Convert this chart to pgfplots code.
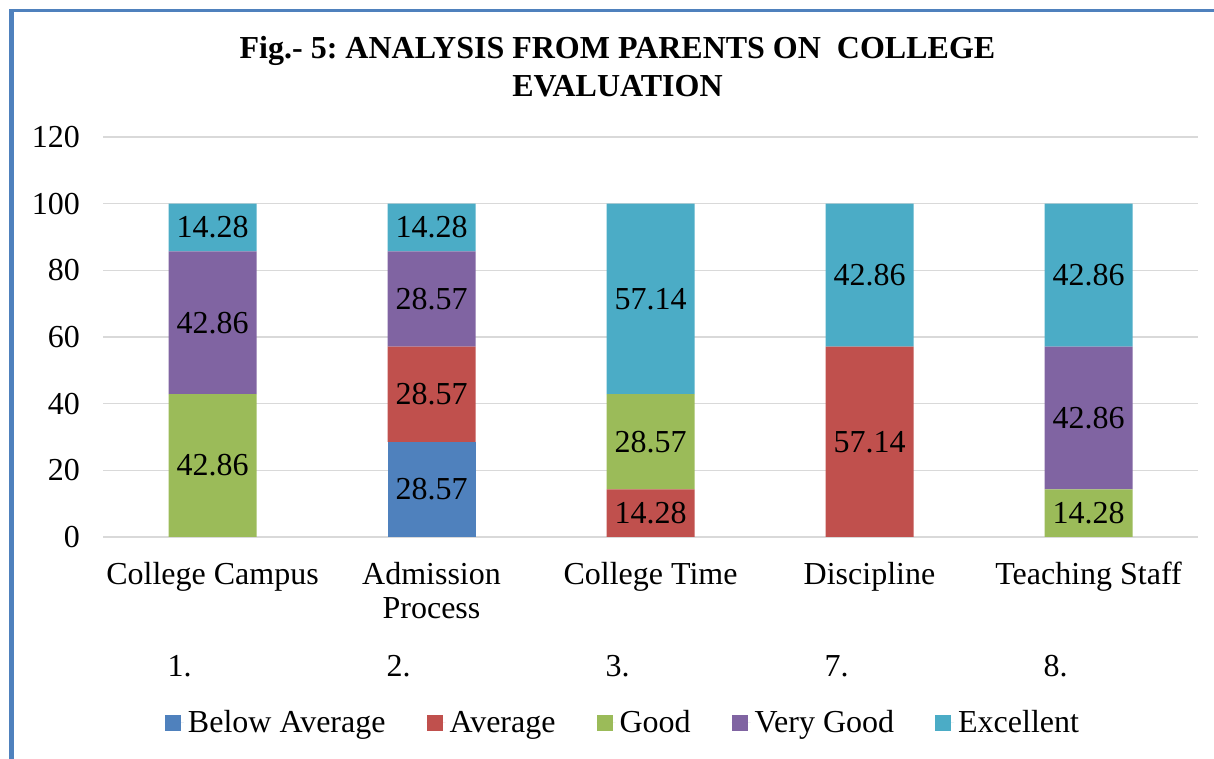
\documentclass[border=0pt]{standalone}
\usepackage{pgfplots}
\pgfplotsset{compat=1.18}
\usepackage{pgfplotstable}
\usepackage{fontspec}
\setmainfont{Liberation Serif}
\definecolor{cBA}{HTML}{4F81BD}
\definecolor{cAV}{HTML}{C0504D}
\definecolor{cGO}{HTML}{9BBB59}
\definecolor{cVG}{HTML}{8064A2}
\definecolor{cEX}{HTML}{4BACC6}
\definecolor{gridc}{HTML}{D9D9D9}
\pgfplotstableread{
x ba avg good vg exc
0 0 0 42.86 42.86 14.28
1 28.57 28.57 0 28.57 14.28
2 0 14.28 28.57 0 57.14
3 0 57.14 0 0 42.86
4 0 0 14.28 42.86 42.86
}\data
\newcommand\lblfont{\fontsize{16}{17}\selectfont}
\frenchspacing
\begin{document}
\begin{tikzpicture}
\path[use as bounding box] (0,0) rectangle (607pt,379.5pt);
\draw[cBA, line width=2.5pt] (5.75pt,0) -- (5.75pt,375pt);
\draw[cBA, line width=1.5pt] (4.5pt,374.25pt) -- (607pt,374.25pt);
\node[font=\bfseries\fontsize{16}{19}\selectfont, align=center] at (308.75pt,346pt) {Fig.- 5: ANALYSIS FROM PARENTS ON\ \ COLLEGE\\EVALUATION};
\begin{axis}[
  at={(51.5pt,111pt)}, anchor=south west,
  scale only axis, width=547.5pt, height=200pt,
  ybar stacked, bar width=44pt,
  xmin=-0.5, xmax=4.5, ymin=0, ymax=120,
  ytick={0,20,...,120},
  xtick={0,...,4},
  xticklabels={College Campus,{Admission\\Process},College Time,Discipline,Teaching Staff},
  xticklabel style={align=center, font=\lblfont, yshift=-9pt},
  yticklabel style={font=\lblfont, xshift=-8pt},
  /pgf/number format/assume math mode=true,
  ymajorgrids, grid style={gridc, line width=0.75pt},
  axis line style={draw=none},
  xtick style={draw=none}, ytick style={draw=none},
  extra x ticks={-0.5,0.5,1.5,2.5,3.5,4.5},
  extra x tick labels={},
  extra x tick style={tick align=outside, major tick length=74pt, tick style={draw=gridc, line width=0.75pt}},
  clip=false,
  point meta=explicit,
  nodes near coords={\pgfmathfloatifflags{\pgfplotspointmeta}{0}{}{\pgfmathprintnumber[fixed,fixed zerofill,precision=2]{\pgfplotspointmeta}}},
  every node near coord/.append style={font=\lblfont, anchor=center, text=black},
  legend style={at={(0.4758,-0.465)}, anchor=center, legend columns=-1, draw=none, fill=none, font=\lblfont,
    /tikz/every even column/.append style={column sep=18.5pt}},
  legend image code/.code={\fill[#1] (0pt,-4pt) rectangle (8pt,4pt); \path (0pt,0pt) -- (9.5pt,0pt);},
]
\addplot[fill=cBA, draw=none] table[x=x, y=ba, meta=ba]{\data};
\addplot[fill=cAV, draw=none] table[x=x, y=avg, meta=avg]{\data};
\addplot[fill=cGO, draw=none] table[x=x, y=good, meta=good]{\data};
\addplot[fill=cVG, draw=none] table[x=x, y=vg, meta=vg]{\data};
\addplot[fill=cEX, draw=none] table[x=x, y=exc, meta=exc]{\data};
\legend{Below Average, Average, Good, Very Good, Excellent}
\node[font=\lblfont, anchor=base, xshift=-16.5pt, yshift=-69.5pt] at (axis cs:0,0) {1.};
\node[font=\lblfont, anchor=base, xshift=-16.5pt, yshift=-69.5pt] at (axis cs:1,0) {2.};
\node[font=\lblfont, anchor=base, xshift=-16.5pt, yshift=-69.5pt] at (axis cs:2,0) {3.};
\node[font=\lblfont, anchor=base, xshift=-16.5pt, yshift=-69.5pt] at (axis cs:3,0) {7.};
\node[font=\lblfont, anchor=base, xshift=-16.5pt, yshift=-69.5pt] at (axis cs:4,0) {8.};
\end{axis}
\end{tikzpicture}
\end{document}
